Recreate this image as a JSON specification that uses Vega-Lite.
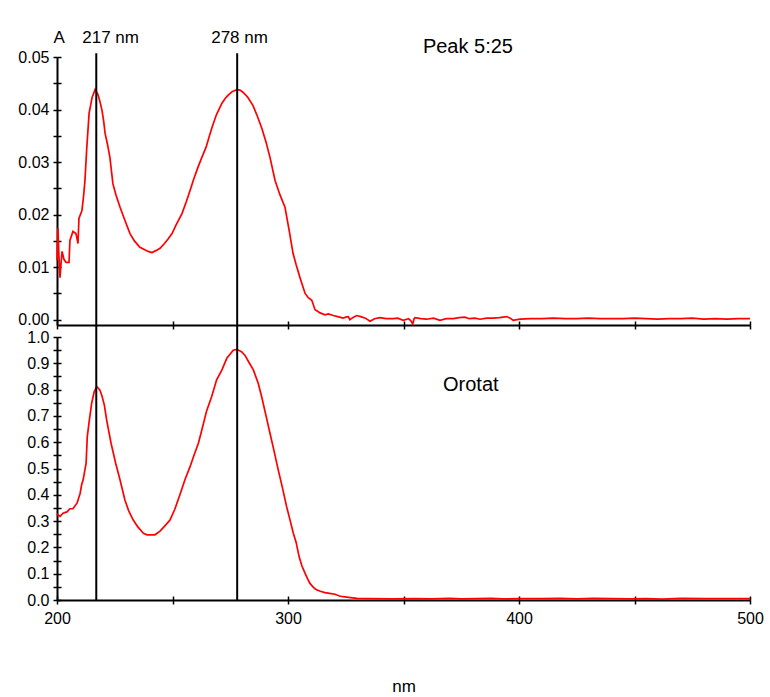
{
  "$schema": "https://vega.github.io/schema/vega-lite/v6.json",
  "background": "white",
  "padding": {"left": 17, "top": 29, "right": 10, "bottom": 0},
  "autosize": {"type": "pad"},
  "bounds": "flush",
  "spacing": 12,
  "config": {
    "view": {"stroke": null},
    "axis": {
      "domainColor": "black", "tickColor": "black", "labelColor": "black",
      "labelFont": "Liberation Sans", "labelFontSize": 16, "titleFont": "Liberation Sans",
      "titleColor": "black", "titleFontWeight": "normal", "grid": false,
      "tickWidth": 1.5, "domainWidth": 2, "labelPadding": 4,
      "labelOverlap": false, "labelBound": false, "labelFlush": false
    },
    "text": {"font": "Liberation Sans", "color": "black"}
  },
  "datasets": {
    "marks": [{"nm": 217, "label": "217 nm"}, {"nm": 278, "label": "278 nm"}],
    "notes": [{"panel": "top", "axis": "A", "title": "Peak 5:25"}, {"panel": "bottom", "title": "Orotat"}],
    "peak": [
      {"nm":200,"A":0.0113},{"nm":200.4,"A":0.0174},{"nm":200.8,"A":0.0125},{"nm":201.3,"A":0.0080},{"nm":201.8,"A":0.0110},{"nm":202.2,"A":0.0130},{"nm":203,"A":0.0115},{"nm":203.9,"A":0.0109},{"nm":205.2,"A":0.0109},{"nm":205.6,"A":0.0151},{"nm":206.9,"A":0.0168},{"nm":208.2,"A":0.0164},{"nm":209.1,"A":0.0145},{"nm":209.5,"A":0.0193},{"nm":210.8,"A":0.0208},{"nm":211.5,"A":0.0235},{"nm":212.1,"A":0.0265},{"nm":212.9,"A":0.0328},{"nm":213.9,"A":0.0393},{"nm":215.2,"A":0.0423},{"nm":216.5,"A":0.0438},{"nm":217.7,"A":0.0429},{"nm":218.6,"A":0.0415},{"nm":219.5,"A":0.0398},{"nm":220.2,"A":0.0378},{"nm":220.8,"A":0.0355},{"nm":221.8,"A":0.0335},{"nm":222.9,"A":0.0309},{"nm":224.2,"A":0.0259},{"nm":225.5,"A":0.0238},{"nm":227.3,"A":0.0214},{"nm":229.5,"A":0.0188},{"nm":231.6,"A":0.0164},{"nm":233.5,"A":0.0150},{"nm":235.9,"A":0.0138},{"nm":238,"A":0.0133},{"nm":239.5,"A":0.0130},{"nm":241.1,"A":0.0128},{"nm":243,"A":0.0132},{"nm":244.6,"A":0.0136},{"nm":246.5,"A":0.0145},{"nm":248,"A":0.0153},{"nm":249.8,"A":0.0164},{"nm":251.5,"A":0.0180},{"nm":254.1,"A":0.0202},{"nm":256,"A":0.0225},{"nm":257.6,"A":0.0246},{"nm":259.2,"A":0.0268},{"nm":261,"A":0.0290},{"nm":262.8,"A":0.0310},{"nm":264.5,"A":0.0328},{"nm":266,"A":0.0350},{"nm":267.1,"A":0.0366},{"nm":269,"A":0.0390},{"nm":271.4,"A":0.0412},{"nm":272.8,"A":0.0421},{"nm":274,"A":0.0427},{"nm":275.8,"A":0.0434},{"nm":277.9,"A":0.0438},{"nm":279.2,"A":0.0437},{"nm":280.5,"A":0.0433},{"nm":282.5,"A":0.0424},{"nm":284.8,"A":0.0408},{"nm":286.5,"A":0.0390},{"nm":288.7,"A":0.0364},{"nm":290.5,"A":0.0338},{"nm":292.2,"A":0.0309},{"nm":294.4,"A":0.0265},{"nm":296.5,"A":0.0238},{"nm":298.7,"A":0.0214},{"nm":300.5,"A":0.0170},{"nm":302.2,"A":0.0126},{"nm":303.5,"A":0.0105},{"nm":305.2,"A":0.0080},{"nm":307.4,"A":0.0050},{"nm":308.8,"A":0.0042},{"nm":310.3,"A":0.0037},{"nm":311.7,"A":0.0019},{"nm":312.8,"A":0.0016},{"nm":313.9,"A":0.0013},{"nm":316,"A":0.00095},{"nm":317.5,"A":0.0011},{"nm":319.6,"A":0.0008},{"nm":321.5,"A":0.0006},{"nm":323.9,"A":0.0003},{"nm":325,"A":0.0005},{"nm":326.1,"A":0.0006},{"nm":326.8,"A":0.0},{"nm":328,"A":0.0004},{"nm":329.7,"A":0.0008},{"nm":331.5,"A":0.0006},{"nm":333.5,"A":0.0003},{"nm":335.5,"A":-0.0003},{"nm":337.5,"A":0.0002},{"nm":339.8,"A":0.0004},{"nm":342.5,"A":0.0002},{"nm":345.6,"A":0.0002},{"nm":347.5,"A":0.0003},{"nm":349.9,"A":-0.0001},{"nm":351.4,"A":0.0001},{"nm":352.2,"A":0.0002},{"nm":353.2,"A":-0.0002},{"nm":354,"A":-0.0008},{"nm":354.6,"A":0.0002},{"nm":355,"A":0.0004},{"nm":357.5,"A":0.0002},{"nm":360,"A":0.0001},{"nm":363,"A":0.0003},{"nm":365.8,"A":-0.0001},{"nm":368.5,"A":0.0002},{"nm":371.6,"A":0.0002},{"nm":374,"A":0.0004},{"nm":376.6,"A":0.0005},{"nm":378.5,"A":0.0002},{"nm":381,"A":0.0003},{"nm":383.1,"A":0.0001},{"nm":386,"A":0.0003},{"nm":388.9,"A":0.0003},{"nm":391.5,"A":0.0004},{"nm":394.7,"A":0.0006},{"nm":396.2,"A":0.0003},{"nm":397.5,"A":-0.0001},{"nm":400.4,"A":0.0001},{"nm":405,"A":0.0002},{"nm":410,"A":0.0002},{"nm":415,"A":0.0003},{"nm":420,"A":0.0002},{"nm":425,"A":0.0002},{"nm":430,"A":0.0003},{"nm":435,"A":0.0002},{"nm":440,"A":0.0002},{"nm":445,"A":0.0002},{"nm":450,"A":0.0003},{"nm":455,"A":0.0002},{"nm":460,"A":0.0001},{"nm":465,"A":0.0002},{"nm":470,"A":0.0002},{"nm":475,"A":0.0003},{"nm":480,"A":0.0001},{"nm":485,"A":0.0002},{"nm":490,"A":0.0001},{"nm":495,"A":0.0002},{"nm":500,"A":0.0002}
    ],
    "orotat": [
      {"nm":200,"A":0.328},{"nm":200.6,"A":0.322},{"nm":201.3,"A":0.318},{"nm":202.6,"A":0.330},{"nm":204.3,"A":0.335},{"nm":205.6,"A":0.347},{"nm":206.9,"A":0.347},{"nm":208.7,"A":0.369},{"nm":210,"A":0.405},{"nm":210.7,"A":0.440},{"nm":211.3,"A":0.456},{"nm":212.6,"A":0.52},{"nm":213.1,"A":0.62},{"nm":214,"A":0.684},{"nm":215,"A":0.748},{"nm":216.1,"A":0.792},{"nm":217.2,"A":0.812},{"nm":218.6,"A":0.798},{"nm":219.5,"A":0.775},{"nm":220.5,"A":0.741},{"nm":221.5,"A":0.684},{"nm":223.4,"A":0.596},{"nm":225.4,"A":0.52},{"nm":227.3,"A":0.456},{"nm":229.4,"A":0.38},{"nm":231,"A":0.34},{"nm":233,"A":0.304},{"nm":235,"A":0.278},{"nm":237.4,"A":0.254},{"nm":239,"A":0.248},{"nm":242.4,"A":0.248},{"nm":244.6,"A":0.262},{"nm":246.5,"A":0.28},{"nm":248.9,"A":0.304},{"nm":251,"A":0.345},{"nm":253.2,"A":0.400},{"nm":255.5,"A":0.46},{"nm":257.6,"A":0.507},{"nm":259.5,"A":0.555},{"nm":261.2,"A":0.596},{"nm":262.5,"A":0.64},{"nm":264.8,"A":0.720},{"nm":267,"A":0.775},{"nm":269.1,"A":0.837},{"nm":271.4,"A":0.875},{"nm":273.5,"A":0.919},{"nm":276.3,"A":0.950},{"nm":277.9,"A":0.953},{"nm":280,"A":0.943},{"nm":281.4,"A":0.930},{"nm":283,"A":0.905},{"nm":285,"A":0.875},{"nm":287.1,"A":0.824},{"nm":288.6,"A":0.773},{"nm":290.5,"A":0.70},{"nm":292.2,"A":0.634},{"nm":294,"A":0.565},{"nm":295.8,"A":0.494},{"nm":297.5,"A":0.43},{"nm":299.4,"A":0.355},{"nm":301,"A":0.30},{"nm":302.3,"A":0.254},{"nm":303.5,"A":0.22},{"nm":304.8,"A":0.165},{"nm":306,"A":0.13},{"nm":307.4,"A":0.101},{"nm":308.5,"A":0.08},{"nm":309.5,"A":0.063},{"nm":311,"A":0.048},{"nm":312.1,"A":0.040},{"nm":314,"A":0.033},{"nm":316,"A":0.028},{"nm":318,"A":0.025},{"nm":320.3,"A":0.022},{"nm":322,"A":0.016},{"nm":323.8,"A":0.0125},{"nm":327,"A":0.009},{"nm":329.9,"A":0.0064},{"nm":335,"A":0.005},{"nm":345,"A":0.004},{"nm":355,"A":0.005},{"nm":362,"A":0.004},{"nm":370,"A":0.006},{"nm":375,"A":0.004},{"nm":382,"A":0.005},{"nm":388,"A":0.006},{"nm":393,"A":0.004},{"nm":400,"A":0.005},{"nm":410,"A":0.005},{"nm":418,"A":0.006},{"nm":425,"A":0.004},{"nm":432,"A":0.006},{"nm":440,"A":0.005},{"nm":448,"A":0.004},{"nm":455,"A":0.005},{"nm":462,"A":0.003},{"nm":470,"A":0.006},{"nm":480,"A":0.005},{"nm":490,"A":0.005},{"nm":500,"A":0.005}
    ]
  },
  "vconcat": [
    {
      "width": 693,
      "height": 268,
      "layer": [
        {
          "data": {"name": "peak"},
          "mark": {"type": "line", "color": "#ff0000", "strokeWidth": 1.7},
          "encoding": {
            "x": {"field": "nm", "type": "quantitative", "scale": {"domain": [200, 500], "nice": false, "zero": false},
                  "axis": {"orient": "bottom", "title": null, "values": [200, 250, 300, 350, 400, 450, 500], "labels": false, "tickSize": 4}},
            "y": {"field": "A", "type": "quantitative", "scale": {"domain": [-0.001, 0.05], "nice": false, "zero": false},
                  "axis": {"orient": "left", "title": null, "values": [0, 0.005, 0.01, 0.015, 0.02, 0.025, 0.03, 0.035, 0.04, 0.045, 0.05], "tickSize": 4,
                           "labelExpr": "abs(datum.value*100 - round(datum.value*100)) < 0.01 ? format(datum.value, '.2f') : ''"}}
          }
        },
        {
          "data": {"name": "marks"},
          "mark": {"type": "rule", "color": "black", "strokeWidth": 2},
          "encoding": {
            "x": {"field": "nm", "type": "quantitative", "scale": {"domain": [200, 500], "nice": false, "zero": false},
                  "axis": {"orient": "bottom", "title": null, "values": [200, 250, 300, 350, 400, 450, 500], "labels": false, "domain": false, "tickSize": -4}},
            "y": {"datum": 0.0507, "type": "quantitative", "scale": {"domain": [-0.001, 0.05], "nice": false, "zero": false},
                  "axis": {"orient": "left", "title": null, "values": [0, 0.005, 0.01, 0.015, 0.02, 0.025, 0.03, 0.035, 0.04, 0.045, 0.05], "labels": false, "domain": false, "tickSize": -4}},
            "y2": {"datum": -0.0033}
          }
        },
        {
          "data": {"name": "notes"},
          "transform": [{"filter": "datum.panel == 'top'"}],
          "mark": {"type": "text", "fontSize": 17, "align": "center", "baseline": "middle"},
          "encoding": {
            "x": {"datum": 200.9, "type": "quantitative", "axis": null},
            "y": {"datum": 0.0536, "type": "quantitative", "axis": null},
            "text": {"field": "axis"}
          }
        },
        {
          "data": {"name": "marks"},
          "transform": [{"filter": "datum.nm == 217"}],
          "mark": {"type": "text", "fontSize": 17, "align": "left", "baseline": "middle", "dx": -14},
          "encoding": {
            "x": {"field": "nm", "type": "quantitative", "axis": null},
            "y": {"datum": 0.0536, "type": "quantitative", "axis": null},
            "text": {"field": "label"}
          }
        },
        {
          "data": {"name": "marks"},
          "transform": [{"filter": "datum.nm == 278"}],
          "mark": {"type": "text", "fontSize": 17, "align": "left", "baseline": "middle", "dx": -26},
          "encoding": {
            "x": {"field": "nm", "type": "quantitative", "axis": null},
            "y": {"datum": 0.0536, "type": "quantitative", "axis": null},
            "text": {"field": "label"}
          }
        },
        {
          "data": {"name": "notes"},
          "transform": [{"filter": "datum.panel == 'top'"}],
          "mark": {"type": "text", "fontSize": 20, "align": "left", "baseline": "middle"},
          "encoding": {
            "x": {"datum": 358.4, "type": "quantitative", "axis": null},
            "y": {"datum": 0.0519, "type": "quantitative", "axis": null},
            "text": {"field": "title"}
          }
        }
      ],
      "resolve": {"axis": {"x": "independent", "y": "independent"}}
    },
    {
      "width": 693,
      "height": 263,
      "layer": [
        {
          "data": {"name": "orotat"},
          "mark": {"type": "line", "color": "#ff0000", "strokeWidth": 1.7},
          "encoding": {
            "x": {"field": "nm", "type": "quantitative", "scale": {"domain": [200, 500], "nice": false, "zero": false},
                  "axis": {"orient": "bottom", "title": "nm", "titleFontSize": 17, "titlePadding": 52, "values": [200, 250, 300, 350, 400, 450, 500], "tickSize": 4,
                           "labelExpr": "datum.value % 100 == 0 ? datum.value : ''", "labelPadding": 6}},
            "y": {"field": "A", "type": "quantitative", "scale": {"domain": [0, 1], "nice": false, "zero": false},
                  "axis": {"orient": "left", "title": null, "values": [0, 0.05, 0.1, 0.15, 0.2, 0.25, 0.3, 0.35, 0.4, 0.45, 0.5, 0.55, 0.6, 0.65, 0.7, 0.75, 0.8, 0.85, 0.9, 0.95, 1.0], "tickSize": 4,
                           "labelExpr": "abs(datum.value*10 - round(datum.value*10)) < 0.01 ? format(datum.value, '.1f') : ''"}}
          }
        },
        {
          "data": {"name": "marks"},
          "mark": {"type": "rule", "color": "black", "strokeWidth": 2},
          "encoding": {
            "x": {"field": "nm", "type": "quantitative", "scale": {"domain": [200, 500], "nice": false, "zero": false},
                  "axis": {"orient": "bottom", "title": null, "values": [200, 250, 300, 350, 400, 450, 500], "labels": false, "domain": false, "tickSize": -4}},
            "y": {"datum": 0, "type": "quantitative", "scale": {"domain": [0, 1], "nice": false, "zero": false},
                  "axis": {"orient": "left", "title": null, "values": [0, 0.05, 0.1, 0.15, 0.2, 0.25, 0.3, 0.35, 0.4, 0.45, 0.5, 0.55, 0.6, 0.65, 0.7, 0.75, 0.8, 0.85, 0.9, 0.95, 1.0], "labels": false, "domain": false, "tickSize": -4}},
            "y2": {"datum": 1}
          }
        },
        {
          "data": {"name": "notes"},
          "transform": [{"filter": "datum.panel == 'bottom'"}],
          "mark": {"type": "text", "fontSize": 20, "align": "left", "baseline": "middle"},
          "encoding": {
            "x": {"datum": 367.1, "type": "quantitative", "axis": null},
            "y": {"datum": 0.8175, "type": "quantitative", "axis": null},
            "text": {"field": "title"}
          }
        }
      ],
      "resolve": {"axis": {"x": "independent", "y": "independent"}}
    }
  ]
}
